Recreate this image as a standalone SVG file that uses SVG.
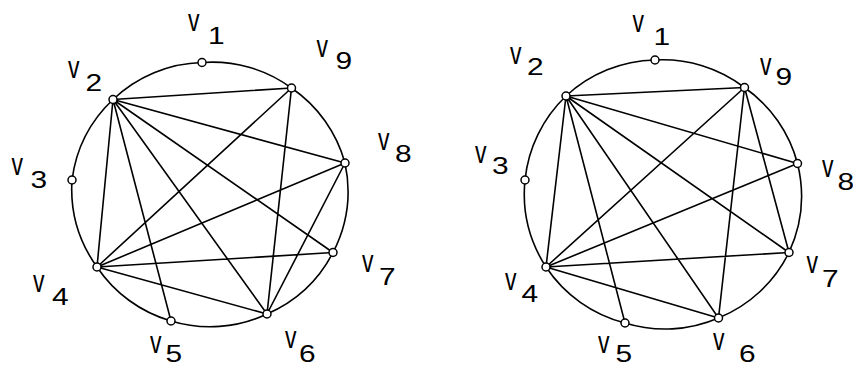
<svg xmlns="http://www.w3.org/2000/svg" width="853" height="367" viewBox="0 0 853 367">
<style>
.e{stroke:#000;stroke-width:1.6;fill:none;stroke-linecap:round}
.n{fill:#fff;stroke:#000;stroke-width:1.5}
.v,.d{font-family:"Liberation Sans",Arial,sans-serif;font-size:23px;fill:#000}
</style>
<rect width="853" height="367" fill="#fff"/>
<g id="connectors-left">
<path class="e" d="M202,62.5 A134,134 0 0 1 291.5,88 A134,134 0 0 1 345,163 A134,134 0 0 1 333,252.5 A134,134 0 0 1 267,314 A134,134 0 0 1 171,321 A134,134 0 0 1 97,267 A134,134 0 0 1 72,180 A134,134 0 0 1 113,99.5 A134,134 0 0 1 202,62.5 Z"/>
<path class="e" d="M113,99.5L291.5,88 M113,99.5L345,163 M113,99.5L333,252.5 M113,99.5L267,314 M113,99.5L171,321 M113,99.5L97,267 M97,267L291.5,88 M97,267L345,163 M97,267L333,252.5 M97,267L267,314 M291.5,88L267,314 M345,163L267,314"/>
</g>
<g id="connectors-right">
<path class="e" d="M655,60 A135,135 0 0 1 744.5,87.5 A135,135 0 0 1 797.5,163.5 A135,135 0 0 1 789,252.5 A135,135 0 0 1 718.5,318 A135,135 0 0 1 625,323 A135,135 0 0 1 546,267 A135,135 0 0 1 525,180 A135,135 0 0 1 566,96 A135,135 0 0 1 655,60 Z"/>
<path class="e" d="M566,96L744.5,87.5 M566,96L797.5,163.5 M566,96L789,252.5 M566,96L718.5,318 M566,96L625,323 M566,96L546,267 M546,267L744.5,87.5 M546,267L797.5,163.5 M546,267L789,252.5 M546,267L718.5,318 M744.5,87.5L718.5,318 M744.5,87.5L789,252.5"/>
</g>
<g id="L-v1"><circle class="n" cx="202" cy="62.5" r="4"/><text class="v" transform="translate(188,31) scale(1,1.4)">v</text><text class="d" transform="translate(208,44) scale(1.3,1)">1</text></g>
<g id="L-v9"><circle class="n" cx="291.5" cy="88" r="4"/><text class="v" transform="translate(316.5,56.5) scale(1,1.4)">v</text><text class="d" transform="translate(335.5,68.5) scale(1.3,1)">9</text></g>
<g id="L-v2"><circle class="n" cx="113" cy="99.5" r="4"/><text class="v" transform="translate(68,78) scale(1,1.4)">v</text><text class="d" transform="translate(85.5,91) scale(1.3,1)">2</text></g>
<g id="L-v8"><circle class="n" cx="345" cy="163" r="4"/><text class="v" transform="translate(378,150) scale(1,1.4)">v</text><text class="d" transform="translate(395,161.5) scale(1.3,1)">8</text></g>
<g id="L-v3"><circle class="n" cx="72" cy="180" r="4"/><text class="v" transform="translate(11.5,175) scale(1,1.4)">v</text><text class="d" transform="translate(30.5,188) scale(1.3,1)">3</text></g>
<g id="L-v7"><circle class="n" cx="333" cy="252.5" r="4"/><text class="v" transform="translate(362,272) scale(1,1.4)">v</text><text class="d" transform="translate(379,285) scale(1.3,1)">7</text></g>
<g id="L-v4"><circle class="n" cx="97" cy="267" r="4"/><text class="v" transform="translate(33,292) scale(1,1.4)">v</text><text class="d" transform="translate(52,305) scale(1.3,1)">4</text></g>
<g id="L-v5"><circle class="n" cx="171" cy="321" r="4"/><text class="v" transform="translate(150,352.5) scale(1,1.4)">v</text><text class="d" transform="translate(165.5,362) scale(1.3,1)">5</text></g>
<g id="L-v6"><circle class="n" cx="267" cy="314" r="4"/><text class="v" transform="translate(285,348) scale(1,1.4)">v</text><text class="d" transform="translate(299,361.5) scale(1.3,1)">6</text></g>
<g id="R-v1"><circle class="n" cx="655" cy="60" r="4"/><text class="v" transform="translate(632.5,32) scale(1,1.4)">v</text><text class="d" transform="translate(653.5,45) scale(1.3,1)">1</text></g>
<g id="R-v9"><circle class="n" cx="744.5" cy="87.5" r="4"/><text class="v" transform="translate(760,75) scale(1,1.4)">v</text><text class="d" transform="translate(775.5,85) scale(1.3,1)">9</text></g>
<g id="R-v2"><circle class="n" cx="566" cy="96" r="4"/><text class="v" transform="translate(510,63.5) scale(1,1.4)">v</text><text class="d" transform="translate(527,75) scale(1.3,1)">2</text></g>
<g id="R-v8"><circle class="n" cx="797.5" cy="163.5" r="4"/><text class="v" transform="translate(822,176.5) scale(1,1.4)">v</text><text class="d" transform="translate(837.5,190) scale(1.3,1)">8</text></g>
<g id="R-v3"><circle class="n" cx="525" cy="180" r="4"/><text class="v" transform="translate(475,163) scale(1,1.4)">v</text><text class="d" transform="translate(492,174) scale(1.3,1)">3</text></g>
<g id="R-v7"><circle class="n" cx="789" cy="252.5" r="4"/><text class="v" transform="translate(806.5,273) scale(1,1.4)">v</text><text class="d" transform="translate(822,287) scale(1.3,1)">7</text></g>
<g id="R-v4"><circle class="n" cx="546" cy="267" r="4"/><text class="v" transform="translate(505,290) scale(1,1.4)">v</text><text class="d" transform="translate(521.5,302) scale(1.3,1)">4</text></g>
<g id="R-v5"><circle class="n" cx="625" cy="323" r="4"/><text class="v" transform="translate(598,352.5) scale(1,1.4)">v</text><text class="d" transform="translate(615.5,362) scale(1.3,1)">5</text></g>
<g id="R-v6"><circle class="n" cx="718.5" cy="318" r="4"/><text class="v" transform="translate(713,350) scale(1,1.4)">v</text><text class="d" transform="translate(739,362) scale(1.3,1)">6</text></g>
</svg>
